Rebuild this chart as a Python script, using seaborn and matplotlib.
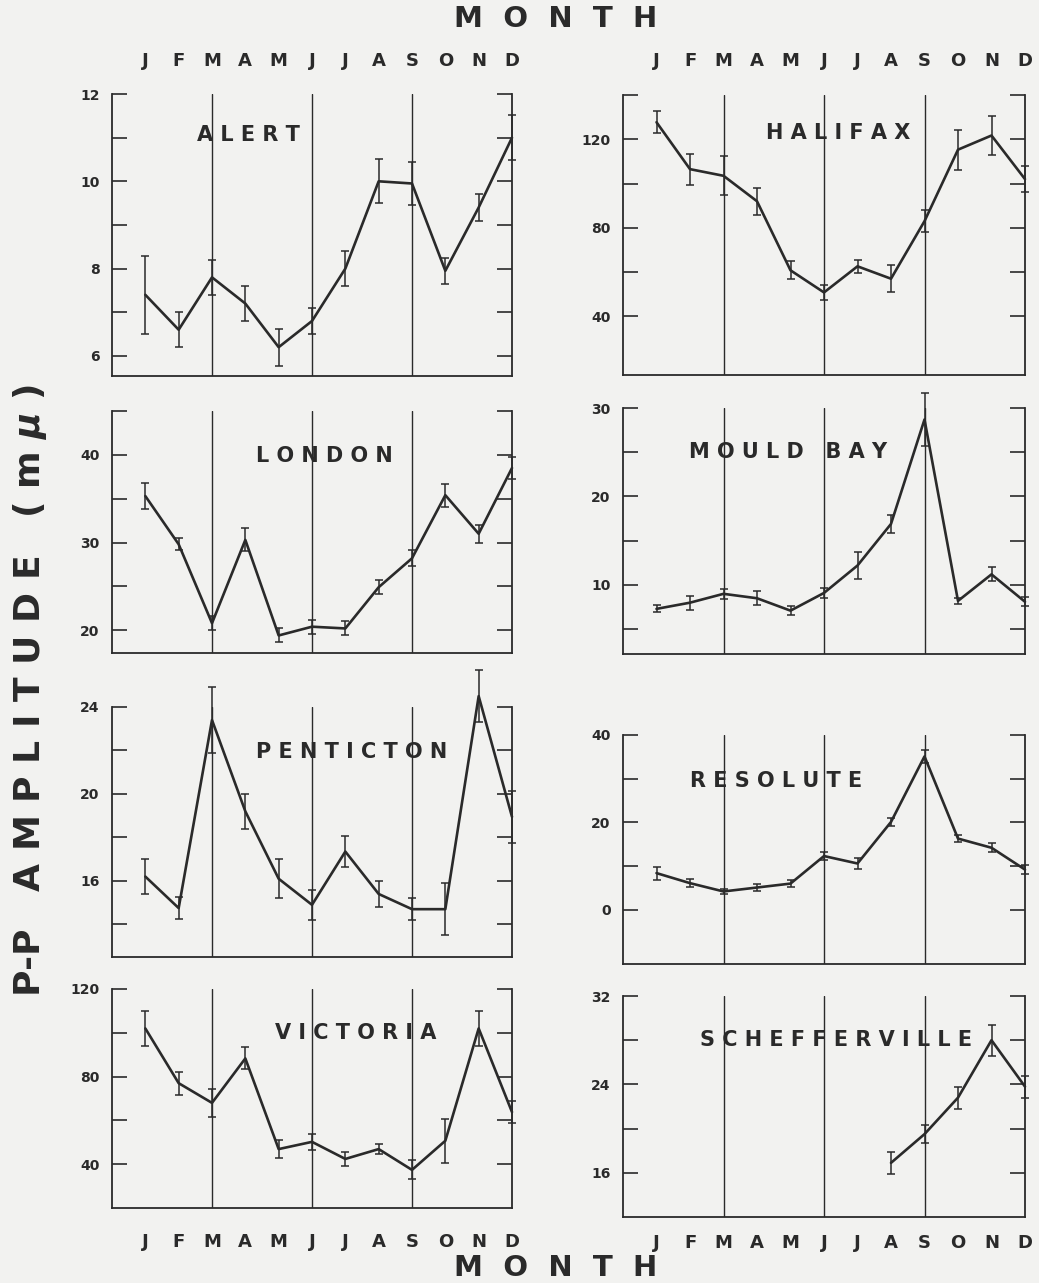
import numpy as np
import pandas as pd
import matplotlib
matplotlib.use("Agg")
import matplotlib.pyplot as plt
import seaborn as sns

# ---------------- data ----------------
months = list(range(1, 13))
month_letters = ["J", "F", "M", "A", "M", "J", "J", "A", "S", "O", "N", "D"]

alert_vals = [7.4, 6.6, 7.8, 7.2, 6.2, 6.8, 8.0, 10.0, 9.95, 7.95, 9.4, 11.0]
alert_err = [0.9, 0.4, 0.4, 0.4, 0.42, 0.3, 0.4, 0.5, 0.5, 0.3, 0.3, 0.52]

halifax_vals = [127.7, 106.5, 103.5, 92.0, 60.8, 50.8, 62.6, 57.0, 83.0, 115.3, 121.7, 102.0]
halifax_err = [5, 7, 8.8, 6, 4, 3.3, 3, 6, 5, 9, 9, 6]

london_vals = [35.3, 29.8, 20.8, 30.3, 19.4, 20.4, 20.2, 24.9, 28.2, 35.4, 31.0, 38.5]
london_err = [1.5, 0.7, 0.8, 1.3, 0.8, 0.8, 0.8, 0.8, 0.9, 1.3, 1.0, 1.2]

mould_vals = [7.3, 8.0, 9.0, 8.5, 7.1, 9.1, 12.2, 16.9, 28.7, 8.2, 11.2, 8.1]
mould_err = [0.4, 0.8, 0.55, 0.8, 0.5, 0.6, 1.5, 1.0, 3.0, 0.3, 0.8, 0.5]

penticton_vals = [16.2, 14.75, 23.4, 19.2, 16.1, 14.9, 17.35, 15.4, 14.7, 14.7, 24.5, 18.95]
penticton_err = [0.8, 0.5, 1.5, 0.8, 0.9, 0.7, 0.7, 0.6, 0.5, 1.2, 1.2, 1.2]

resolute_vals = [8.4, 6.1, 4.2, 5.1, 6.0, 12.3, 10.6, 20.1, 35.1, 16.3, 14.2, 9.2]
resolute_err = [1.5, 0.85, 0.6, 0.9, 0.75, 1.0, 1.2, 1.0, 1.5, 0.8, 1.0, 1.0]

victoria_vals = [102.0, 77.0, 68.0, 88.3, 46.9, 50.2, 42.4, 46.9, 37.4, 50.7, 102.0, 63.8]
victoria_err = [8, 5.3, 6.3, 5, 4, 3.5, 3, 2.3, 4.3, 10, 8, 5]

scheff_months = [8, 9, 10, 11, 12]
scheff_vals = [16.9, 19.5, 22.8, 28.0, 23.8]
scheff_err = [1.0, 0.8, 1.0, 1.4, 1.0]

# ---------------- style ----------------
sns.set_theme(style="white")
plt.rcParams["font.family"] = ["DejaVu Sans"]
plt.rcParams["font.weight"] = "bold"

INK = "#2a2a2a"
BG = "#f2f2f0"

W, H = 1039, 1283
fig = plt.figure(figsize=(W / 100, H / 100), dpi=100, facecolor=BG)


def box(x0, x1, top, bottom):
    return [x0 / W, 1 - bottom / H, (x1 - x0) / W, (bottom - top) / H]


def panel(rect, x, y, e, name, ylim, ticks, labeled, title_pos, xlabels=None, pad=10):
    ax = fig.add_axes(rect)
    ax.set_facecolor("none")
    df = pd.DataFrame({"month": x, "value": y})
    sns.lineplot(data=df, x="month", y="value", ax=ax, color=INK, lw=1.9,
                 clip_on=False)
    eb = ax.errorbar(x, y, yerr=e, fmt="none", ecolor=INK, elinewidth=1.1,
                     capsize=2.6, capthick=1.1)
    for part in eb.get_children():
        part.set_clip_on(False)
    for m in (3, 6, 9):
        ax.axvline(m, color=INK, lw=1.0)
    ax.set_xlim(0, 12)
    ax.set_ylim(*ylim)
    ax.set_yticks(ticks)
    ax.set_yticklabels([str(t) if t in labeled else "" for t in ticks])
    ax.tick_params(axis="y", direction="in", length=11, width=1.2, color=INK,
                   left=True, right=True, labelleft=True, labelright=False,
                   labelsize=10, pad=9, labelcolor=INK)
    ax.set_xticks(months)
    if xlabels == "top":
        ax.xaxis.set_ticks_position("top")
        ax.set_xticklabels(month_letters)
        ax.tick_params(axis="x", length=0, top=False, labeltop=True,
                       labelbottom=False, labelsize=13, pad=pad, labelcolor=INK)
    elif xlabels == "bottom":
        ax.set_xticklabels(month_letters)
        ax.tick_params(axis="x", length=0, labelsize=13, pad=pad, labelcolor=INK)
    else:
        ax.set_xticklabels([])
        ax.tick_params(axis="x", length=0)
    ax.set_xlabel("")
    ax.set_ylabel("")
    ax.grid(False)
    ax.spines["top"].set_visible(False)
    for s in ("left", "right", "bottom"):
        ax.spines[s].set_visible(True)
        ax.spines[s].set_color(INK)
        ax.spines[s].set_linewidth(1.3)
    ax.text(title_pos[0], title_pos[1], name, transform=ax.transAxes,
            ha="center", va="center", fontsize=15, fontweight="bold", color=INK)
    return ax


LX0, LX1 = 112, 512
RX0, RX1 = 623, 1025

panel(box(LX0, LX1, 94, 376), months, alert_vals, alert_err, "A L E R T",
      (5.54, 12), list(range(6, 13)), [6, 8, 10, 12], (0.34, 0.855), "top", 17)
panel(box(RX0, RX1, 95, 375), months, halifax_vals, halifax_err, "H A L I F A X",
      (13.5, 140), list(range(40, 141, 20)), [40, 80, 120], (0.535, 0.864), "top", 18)
panel(box(LX0, LX1, 411, 653), months, london_vals, london_err, "L O N D O N",
      (17.4, 45), list(range(20, 46, 5)), [20, 30, 40], (0.53, 0.814))
panel(box(RX0, RX1, 408, 654), months, mould_vals, mould_err, "M O U L D   B A Y",
      (2.2, 30), list(range(5, 31, 5)), [10, 20, 30], (0.41, 0.82))
panel(box(LX0, LX1, 707, 957), months, penticton_vals, penticton_err, "P E N T I C T O N",
      (12.5, 24), list(range(14, 25, 2)), [16, 20, 24], (0.60, 0.82))
panel(box(RX0, RX1, 735, 964), months, resolute_vals, resolute_err, "R E S O L U T E",
      (-12.4, 40), list(range(0, 41, 10)), [0, 20, 40], (0.38, 0.80))
panel(box(LX0, LX1, 989, 1208), months, victoria_vals, victoria_err, "V I C T O R I A",
      (20, 120), list(range(40, 121, 20)), [40, 80, 120], (0.61, 0.80), "bottom", 18)
panel(box(RX0, RX1, 996, 1217), scheff_months, scheff_vals, scheff_err,
      "S C H E F F E R V I L L E",
      (12, 32), list(range(16, 33, 4)), [16, 24, 32], (0.53, 0.80), "bottom", 12)

fig.text(556 / W, 1 - 19 / H, "M  O  N  T  H", ha="center", va="center",
         fontsize=21, fontweight="bold", color=INK)
fig.text(556 / W, 1 - 1268 / H, "M  O  N  T  H", ha="center", va="center",
         fontsize=21, fontweight="bold", color=INK)
fig.text(30 / W, 1 - 690 / H, "P-P   A M P L I T U D E   ( m $\\mu$ )",
         rotation=90, ha="center", va="center", fontsize=26,
         fontweight="bold", color=INK)

fig.savefig("out.png", dpi=100, facecolor=BG)
